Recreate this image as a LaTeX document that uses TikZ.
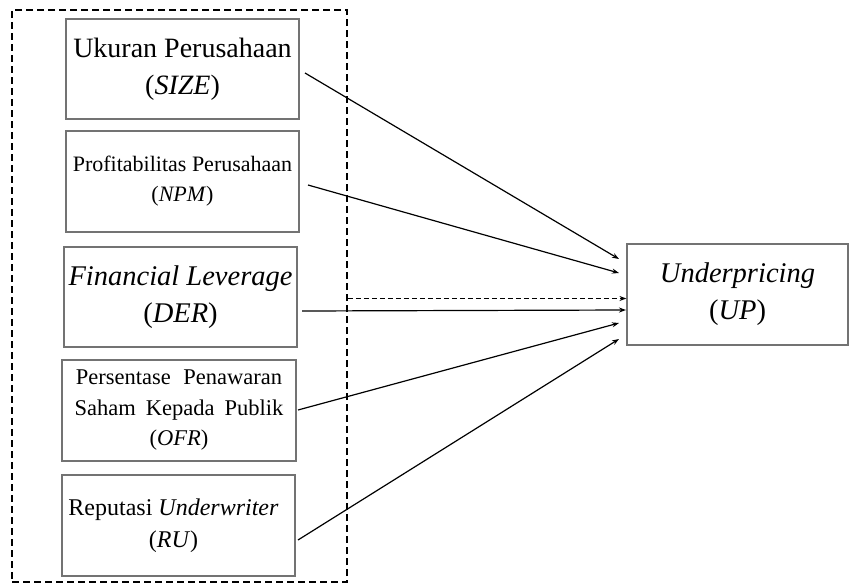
\documentclass[tikz,border=0pt]{standalone}
\usepackage{fontspec}
\setmainfont{Liberation Serif}
\usetikzlibrary{arrows.meta}
\begin{document}
\begin{tikzpicture}[x=1pt,y=-1pt,
  varbox/.style={draw=black!55, line width=1.2pt, inner sep=0pt, align=center},
  conn/.style={line width=1.2pt, -{Stealth[length=7pt,width=5pt]}},
  grp/.style={draw=black, line width=1.8pt, dash pattern=on 7pt off 4pt}]
\useasboundingbox (0,0) rectangle (849,584);
\node[grp, minimum width=335pt, minimum height=572pt, inner sep=0pt] (group) at (179.5,296) {};
\node[varbox, minimum width=233pt, minimum height=100pt, font=\fontsize{28}{37}\selectfont] (size) at (182.5,69)
  {Ukuran Perusahaan\\(\textit{SIZE})};
\node[varbox, minimum width=233pt, minimum height=101pt, font=\fontsize{22}{30}\selectfont] (npm) at (182.5,181.5)
  {Profitabilitas Perusahaan\\(\textit{NPM})};
\node[varbox, minimum width=233pt, minimum height=100pt, font=\fontsize{28.5}{37}\selectfont] (der) at (180.5,297)
  {\textit{Financial Leverage}\\(\textit{DER})};
\node[varbox, minimum width=234pt, minimum height=101pt, font=\fontsize{22.5}{30.5}\selectfont] (ofr) at (179,410.5)
  {Persentase\hspace{0.55em}Penawaran\\Saham\hspace{0.45em}Kepada\hspace{0.45em}Publik\\(\textit{OFR})};
\node[varbox, minimum width=233pt, minimum height=101pt, font=\fontsize{24}{32}\selectfont] (ru) at (178.5,525.5)
  {Reputasi \textit{Underwriter}\hspace*{10pt}\\(\textit{RU})\hspace*{10pt}};
\node[varbox, minimum width=221pt, minimum height=101pt, font=\fontsize{28.5}{37}\selectfont] (up) at (737.5,294.5)
  {\textit{Underpricing}\\(\textit{UP})};
\coordinate (s1) at (305,73);
\coordinate (s2) at (308,185);
\coordinate (s3) at (302,311);
\coordinate (s4) at (298,410);
\coordinate (s5) at (298,540);
\coordinate (t1) at (619,259);
\coordinate (t2) at (619,273);
\coordinate (t3) at (626,310);
\coordinate (t4) at (619,323);
\coordinate (t5) at (619,339);
\draw[conn] (s1) -- (t1);
\draw[conn] (s2) -- (t2);
\draw[conn] (s3) -- (t3);
\draw[conn] (s4) -- (t4);
\draw[conn] (s5) -- (t5);
\draw[conn, dash pattern=on 5pt off 3pt] (group.east |- 0,298.5) -- (up.west |- 0,298.5);
\end{tikzpicture}
\end{document}
